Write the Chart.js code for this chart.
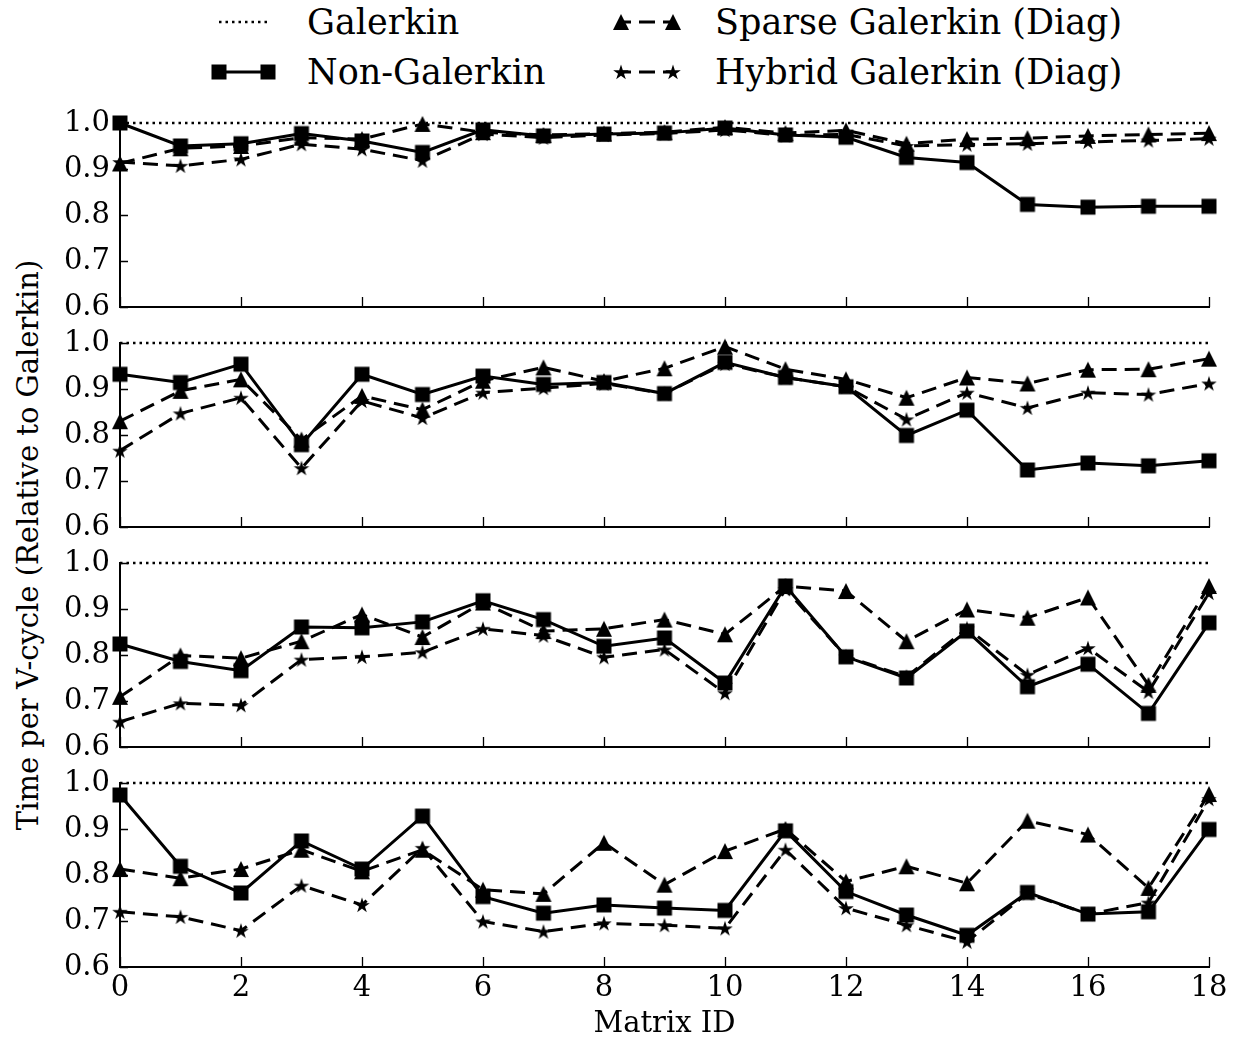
<!DOCTYPE html>
<html>
<head>
<meta charset="utf-8">
<script src="https://cdn.jsdelivr.net/npm/chart.js@4.4.1/dist/chart.umd.min.js"></script>
<style>
  html, body { margin: 0; padding: 0; background: #fff; }
  #page { position: relative; width: 1239px; height: 1042px; font-family: 'DejaVu Serif', serif; color: #000; overflow: hidden; }
  canvas.panel { position: absolute; left: 0; }
  #legendMarks { position: absolute; left: 0; top: 0; }
  .ytitle { position: absolute; left: 28px; top: 545px; transform: translate(-50%, -50%) rotate(-90deg); font-size: 29px; white-space: nowrap; }
  .lg { position: absolute; font-size: 35px; line-height: 1; white-space: nowrap; transform: translateY(-50%); }
</style>
</head>
<body>
<div id="page">
  <svg id="legendMarks" width="1239" height="100"></svg>
  <span class="lg" style="left:307px; top:22px;">Galerkin</span>
  <span class="lg" style="left:307px; top:72px;">Non-Galerkin</span>
  <span class="lg" style="left:715px; top:22px;">Sparse Galerkin (Diag)</span>
  <span class="lg" style="left:715px; top:72px;">Hybrid Galerkin (Diag)</span>
  <div class="ytitle">Time per V-cycle (Relative to Galerkin)</div>
</div>
<script>
// data (top to bottom)
const matrixIds = [0, 1, 2, 3, 4, 5, 6, 7, 8, 9, 10, 11, 12, 13, 14, 15, 16, 17, 18];
const xTicks = [0, 2, 4, 6, 8, 10, 12, 14, 16, 18];
const yTicks = [0.6, 0.7, 0.8, 0.9, 1.0];

const galerkin = [1, 1, 1, 1, 1, 1, 1, 1, 1, 1, 1, 1, 1, 1, 1, 1, 1, 1, 1];

const nonGalerkinA = [1.000, 0.950, 0.955, 0.977, 0.961, 0.936, 0.985, 0.972, 0.976, 0.978, 0.989, 0.974, 0.969, 0.925, 0.914, 0.823, 0.817, 0.819, 0.819];
const sparseA      = [0.912, 0.945, 0.950, 0.968, 0.965, 0.998, 0.980, 0.974, 0.977, 0.980, 0.991, 0.978, 0.984, 0.955, 0.965, 0.967, 0.972, 0.975, 0.978];
const hybridA      = [0.915, 0.907, 0.921, 0.954, 0.943, 0.918, 0.976, 0.968, 0.974, 0.977, 0.985, 0.973, 0.975, 0.950, 0.953, 0.955, 0.959, 0.962, 0.966];

const nonGalerkinB = [0.932, 0.914, 0.954, 0.779, 0.932, 0.888, 0.928, 0.910, 0.914, 0.890, 0.958, 0.925, 0.905, 0.799, 0.854, 0.724, 0.739, 0.733, 0.744];
const sparseB      = [0.830, 0.896, 0.921, 0.790, 0.885, 0.855, 0.918, 0.947, 0.917, 0.945, 0.992, 0.943, 0.921, 0.881, 0.925, 0.912, 0.942, 0.943, 0.966];
const hybridB      = [0.766, 0.847, 0.881, 0.728, 0.874, 0.837, 0.892, 0.902, 0.912, 0.890, 0.955, 0.925, 0.905, 0.834, 0.892, 0.859, 0.892, 0.888, 0.912];

const nonGalerkinC = [0.824, 0.786, 0.766, 0.861, 0.859, 0.872, 0.918, 0.877, 0.819, 0.837, 0.739, 0.950, 0.796, 0.750, 0.852, 0.731, 0.780, 0.673, 0.870];
const sparseC      = [0.709, 0.799, 0.793, 0.830, 0.888, 0.839, 0.914, 0.852, 0.857, 0.877, 0.845, 0.950, 0.939, 0.830, 0.899, 0.881, 0.925, 0.735, 0.950];
const hybridC      = [0.655, 0.695, 0.691, 0.790, 0.796, 0.806, 0.857, 0.842, 0.795, 0.812, 0.717, 0.943, 0.797, 0.753, 0.858, 0.757, 0.815, 0.720, 0.935];

const nonGalerkinD = [0.974, 0.819, 0.761, 0.874, 0.813, 0.928, 0.753, 0.717, 0.735, 0.728, 0.723, 0.896, 0.764, 0.713, 0.669, 0.762, 0.715, 0.720, 0.899];
const sparseD      = [0.813, 0.793, 0.813, 0.855, 0.808, 0.855, 0.768, 0.759, 0.870, 0.779, 0.852, 0.900, 0.786, 0.819, 0.782, 0.918, 0.888, 0.772, 0.976];
const hybridD      = [0.720, 0.709, 0.679, 0.777, 0.735, 0.859, 0.699, 0.677, 0.695, 0.691, 0.684, 0.855, 0.728, 0.691, 0.655, 0.760, 0.715, 0.740, 0.965];

const panels = [
  [nonGalerkinA, sparseA, hybridA],
  [nonGalerkinB, sparseB, hybridB],
  [nonGalerkinC, sparseC, hybridC],
  [nonGalerkinD, sparseD, hybridD],
];

const FONT = 'DejaVu Serif';
const TICK_SIZE = 29;

// filled marker shapes, matplotlib style
function starPath(g, cx, cy, R) {
  const r = R * 0.382;
  g.beginPath();
  for (let i = 0; i < 10; i++) {
    const rad = (i % 2 ? r : R);
    const a = -Math.PI / 2 + i * Math.PI / 5;
    const px = cx + rad * Math.cos(a), py = cy + rad * Math.sin(a);
    if (i === 0) g.moveTo(px, py); else g.lineTo(px, py);
  }
  g.closePath();
}
function makeMarker(kind) {
  const c = document.createElement('canvas');
  c.width = 18; c.height = 18;
  const g = c.getContext('2d');
  g.fillStyle = '#000';
  g.beginPath();
  if (kind === 'square') {
    g.rect(1.5, 1.5, 15, 15);
  } else if (kind === 'triangle') {
    g.moveTo(9, 1); g.lineTo(17, 17); g.lineTo(1, 17); g.closePath();
  } else {
    starPath(g, 9, 9.7, 8.2);
  }
  g.fill();
  return c;
}
const squareMk = makeMarker('square');
const triMk = makeMarker('triangle');
const starMk = makeMarker('star');

// ticks pointing into the axes, like the reference
const innerTicks = {
  id: 'innerTicks',
  afterDraw(chart) {
    const { ctx, chartArea: a, scales: { x, y } } = chart;
    ctx.save();
    ctx.strokeStyle = '#000';
    ctx.lineWidth = 1.3;
    ctx.beginPath();
    xTicks.forEach(v => {
      const px = Math.round(x.getPixelForValue(v)) + 0.5;
      ctx.moveTo(px, a.bottom); ctx.lineTo(px, a.bottom - 10);
    });
    yTicks.forEach(v => {
      const py = Math.round(y.getPixelForValue(v)) + 0.5;
      ctx.moveTo(a.left, py); ctx.lineTo(a.left + 8, py);
    });
    ctx.stroke();
    ctx.restore();
  }
};

function pts(vals) {
  return matrixIds.map((id, i) => ({ x: id, y: vals[i] }));
}

const page = document.getElementById('page');
const areaTop0 = 123, areaH = 184, step = 220;

panels.forEach((series, p) => {
  const isBottom = p === panels.length - 1;
  const cv = document.createElement('canvas');
  cv.className = 'panel';
  const top = areaTop0 + p * step - 20;
  const h = isBottom ? 1042 - top : 20 + areaH + 12;
  cv.width = 1239; cv.height = h;
  cv.style.top = top + 'px';
  page.appendChild(cv);

  new Chart(cv, {
    type: 'line',
    data: {
      datasets: [
        { label: 'Galerkin', data: pts(galerkin), borderColor: '#000', borderWidth: 2.5,
          borderDash: [2.5, 4], pointRadius: 0, order: 3, clip: false },
        { label: 'Non-Galerkin', data: pts(series[0]), borderColor: '#000', borderWidth: 3,
          pointStyle: squareMk, order: 0, clip: false },
        { label: 'Sparse Galerkin (Diag)', data: pts(series[1]), borderColor: '#000', borderWidth: 3,
          borderDash: [15, 8], pointStyle: triMk, order: 2, clip: false },
        { label: 'Hybrid Galerkin (Diag)', data: pts(series[2]), borderColor: '#000', borderWidth: 3,
          borderDash: [15, 8], pointStyle: starMk, order: 1, clip: false },
      ]
    },
    options: {
      responsive: false,
      animation: false,
      events: [],
      layout: { padding: { top: 20, right: 30, bottom: isBottom ? 0 : 12, left: 0 } },
      elements: { line: { tension: 0, fill: false }, point: { radius: 8, hoverRadius: 8 } },
      plugins: { legend: { display: false }, tooltip: { enabled: false } },
      scales: {
        x: {
          type: 'linear', min: 0, max: 18,
          grid: { display: false, drawTicks: false },
          border: { display: true, color: '#000', width: 2 },
          ticks: { display: isBottom, stepSize: 2, autoSkip: false, padding: 4, color: '#000',
                   font: { family: FONT, size: TICK_SIZE } },
          title: { display: isBottom, text: 'Matrix ID', color: '#000',
                   font: { family: FONT, size: TICK_SIZE }, padding: { top: 2, bottom: 0 } },
          afterFit: s => { s.height = isBottom ? 75 : 0; s.paddingLeft = 0; s.paddingRight = 0; }
        },
        y: {
          min: 0.6, max: 1.0,
          grid: { display: false, drawTicks: false },
          border: { display: true, color: '#000', width: 2 },
          ticks: { stepSize: 0.1, padding: 10, color: '#000', font: { family: FONT, size: TICK_SIZE },
                   callback: v => Number(v).toFixed(1) },
          afterFit: s => { s.width = 120; s.paddingTop = 0; s.paddingBottom = 0; }
        }
      }
    },
    plugins: [innerTicks]
  });
});

// legend samples
const svg = document.getElementById('legendMarks');
const NS = 'http://www.w3.org/2000/svg';
function add(tag, attrs) {
  const el = document.createElementNS(NS, tag);
  for (const k in attrs) el.setAttribute(k, attrs[k]);
  svg.appendChild(el);
}
function star(cx, cy, R) {
  const r = R * 0.382; let d = '';
  for (let i = 0; i < 10; i++) {
    const rad = i % 2 ? r : R, a = -Math.PI / 2 + i * Math.PI / 5;
    d += (i ? 'L' : 'M') + (cx + rad * Math.cos(a)).toFixed(2) + ' ' + (cy + rad * Math.sin(a)).toFixed(2);
  }
  add('path', { d: d + 'Z', fill: '#000' });
}
add('line', { x1: 219, y1: 22, x2: 268, y2: 22, stroke: '#000', 'stroke-width': 2.5, 'stroke-dasharray': '2.5 4' });
add('line', { x1: 219, y1: 72, x2: 268, y2: 72, stroke: '#000', 'stroke-width': 3 });
[219, 268].forEach(cx => add('rect', { x: cx - 7.5, y: 64.5, width: 15, height: 15, fill: '#000' }));
add('line', { x1: 621, y1: 22, x2: 673, y2: 22, stroke: '#000', 'stroke-width': 3, 'stroke-dasharray': '16 8', 'stroke-dashoffset': -18 });
[621, 673].forEach(cx => add('path', { d: `M${cx} 14 L${cx + 8} 30 L${cx - 8} 30 Z`, fill: '#000' }));
add('line', { x1: 621, y1: 72, x2: 673, y2: 72, stroke: '#000', 'stroke-width': 3, 'stroke-dasharray': '16 8', 'stroke-dashoffset': -18 });
[621, 673].forEach(cx => star(cx, 72.7, 8.2));
</script>
</body>
</html>
